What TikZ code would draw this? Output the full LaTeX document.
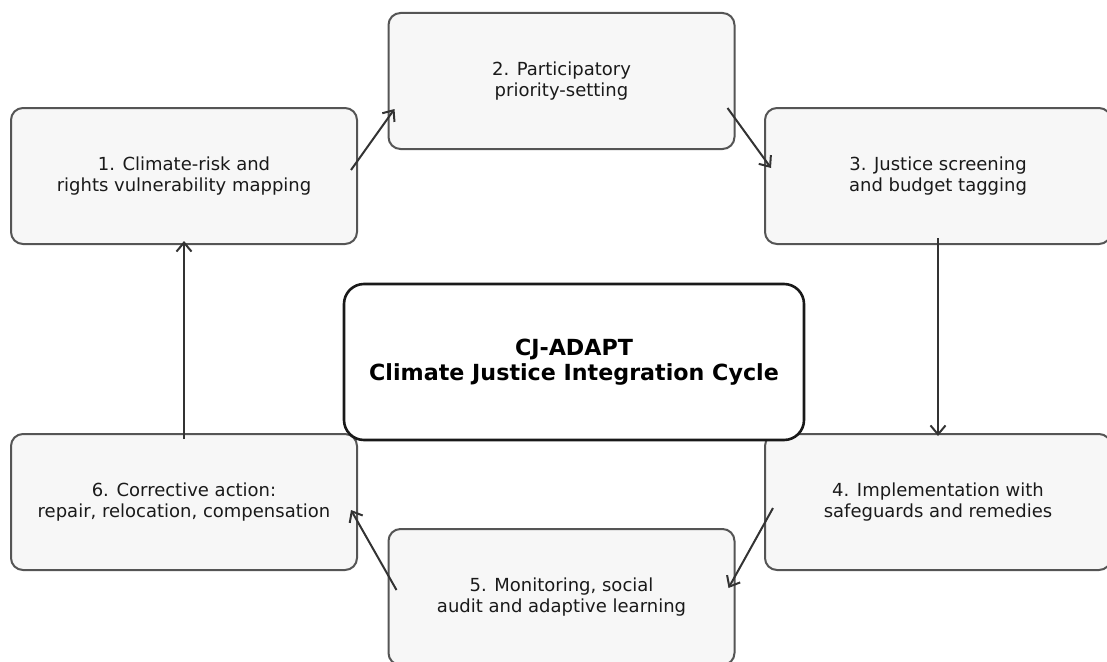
\documentclass[tikz,border=0pt]{standalone}
\usepackage{fontspec}
\setmainfont{DejaVu Sans}
\usetikzlibrary{arrows.meta}

\definecolor{boxfill}{HTML}{F7F7F7}
\definecolor{boxline}{HTML}{555555}
\definecolor{arrowline}{HTML}{333333}
\definecolor{textcol}{HTML}{1A1A1A}

\tikzset{
    stage/.style={draw=boxline, line width=2pt, fill=boxfill, rounded corners=12pt,
        minimum width=346pt, minimum height=136pt, inner sep=0pt, align=center,
        text=textcol, font=\fontsize{18}{21}\selectfont},
    hub/.style={draw=black!90, line width=2.6pt, fill=white, rounded corners=20pt,
        minimum width=460pt, minimum height=156pt, inner sep=0pt, align=center,
        font=\fontsize{22.2}{25}\selectfont\bfseries},
    flow/.style={draw=arrowline, line width=2pt,
        -{Straight Barb[length=9pt,width=15pt,line width=2pt]}}
}

\begin{document}
\begin{tikzpicture}[x=1pt,y=-1pt]
    \useasboundingbox (0,0) rectangle (1107,661);

    % the six stages of the cycle
    \node[stage] (s1) at (184,176) {1. Climate-risk and\\rights vulnerability mapping};
    \node[stage] (s2) at (561.5,81) {2. Participatory\\priority-setting};
    \node[stage] (s3) at (938,176) {3. Justice screening\\and budget tagging};
    \node[stage] (s4) at (938,502) {4. Implementation with\\safeguards and remedies};
    \node[stage] (s5) at (561.5,597) {5. Monitoring, social\\audit and adaptive learning};
    \node[stage] (s6) at (184,502) {6. Corrective action:\\repair, relocation, compensation};

    % centre title
    \node[hub] (hub) at (574,362) {CJ-ADAPT\\Climate Justice Integration Cycle};

    % arrows between stages
    \draw[flow] ([shift={(-7,-6)}]s1.east) -- ([shift={(7,28)}]s2.west);
    \draw[flow] ([shift={(-8,27)}]s2.east) -- ([shift={(7,-8)}]s3.west);
    \draw[flow] ([shift={(0,-7)}]s3.south) -- ([shift={(0,3)}]s4.north);
    \draw[flow] ([shift={(9,6)}]s4.west) -- ([shift={(-7,-9)}]s5.east);
    \draw[flow] ([shift={(9,-7)}]s5.west) -- ([shift={(-7,8)}]s6.east);
    \draw[flow] ([shift={(0,6)}]s6.north) -- ([shift={(0,-4)}]s1.south);
\end{tikzpicture}
\end{document}
